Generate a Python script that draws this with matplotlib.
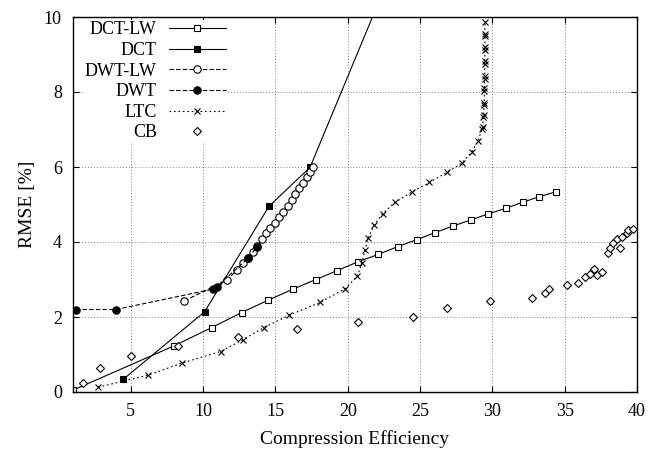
import numpy as np
import matplotlib
matplotlib.use('Agg')
import matplotlib.pyplot as plt

plt.rcParams['font.family'] = ['Liberation Serif', 'DejaVu Serif']

# data
dct_lw_x = [1.0, 7.98, 10.6, 12.67, 14.5, 16.19, 17.8, 19.28, 20.69, 22.12, 23.47,
            24.76, 26.03, 27.3, 28.52, 29.72, 30.94, 32.1, 33.25, 34.4]
dct_lw_y = [0.05, 1.23, 1.72, 2.12, 2.45, 2.74, 3.0, 3.24, 3.47, 3.67, 3.88,
            4.06, 4.25, 4.43, 4.59, 4.75, 4.9, 5.06, 5.21, 5.34]

dct_x = [4.48, 10.1, 14.55, 17.39, 23.0]
dct_y = [0.34, 2.14, 4.95, 5.99, 11.2]

dwt_lw_x = [8.7, 11.67, 12.32, 12.78, 13.1, 13.47, 13.75, 14.05, 14.35, 14.62, 14.97,
            15.27, 15.54, 15.89, 16.12, 16.35, 16.65, 16.88, 17.16, 17.39, 17.62]
dwt_lw_y = [2.43, 2.99, 3.25, 3.43, 3.57, 3.74, 3.9, 4.07, 4.23, 4.37, 4.5,
            4.66, 4.81, 4.96, 5.12, 5.27, 5.43, 5.58, 5.74, 5.87, 6.01]

dwt_x = [1.2, 3.97, 10.66, 10.94, 13.12, 13.74]
dwt_y = [2.2, 2.2, 2.74, 2.81, 3.57, 3.88]

ltc_x = [2.75, 6.21, 8.52, 11.21, 12.78, 14.2, 15.96, 18.08, 19.81, 20.66, 20.99,
         21.19, 21.42, 21.82, 22.42, 23.27, 24.42, 25.64, 26.88, 27.88, 28.57,
         29.03, 29.26, 29.33, 29.38, 29.4, 29.42, 29.43, 29.45, 29.45, 29.46,
         29.47, 29.47, 29.48, 29.48, 29.49, 29.49, 29.49, 29.49]
ltc_y = [0.13, 0.45, 0.77, 1.08, 1.4, 1.72, 2.05, 2.39, 2.75, 3.09, 3.45,
         3.79, 4.12, 4.45, 4.76, 5.06, 5.33, 5.59, 5.86, 6.1, 6.4,
         6.7, 7.01, 7.07, 7.33, 7.4, 7.65, 7.72, 8.03, 8.1, 8.36,
         8.43, 8.75, 8.82, 9.12, 9.19, 9.49, 9.56, 9.87]

cb_x = [1.71, 2.87, 4.99, 8.28, 12.43, 16.47, 20.69, 24.49, 26.84, 29.84, 32.72,
        33.64, 33.94, 35.19, 35.95, 36.41, 36.75, 37.05, 37.2, 37.6, 38.02,
        38.14, 38.36, 38.6, 38.83, 38.94, 39.29, 39.4, 39.75]
cb_y = [0.23, 0.63, 0.96, 1.24, 1.47, 1.67, 1.86, 2.01, 2.23, 2.43, 2.51,
        2.63, 2.75, 2.85, 2.92, 3.06, 3.15, 3.27, 3.12, 3.21, 3.72,
        3.83, 3.97, 4.08, 3.85, 4.14, 4.23, 4.32, 4.36]

xticks = [5, 10, 15, 20, 25, 30, 35, 40]
yticks = [0, 2, 4, 6, 8, 10]

fig = plt.figure(figsize=(6.66, 4.58), dpi=100)
ax = fig.add_axes([73 / 666, 1 - 392 / 458, 564 / 666, 375 / 458])

lw = 0.8
dashed = (0, (4, 2))
dotted = (0, (1.5, 2.5))

ax.plot(dct_lw_x, dct_lw_y, color='black', lw=lw, ls='-', marker='s', ms=5,
        mfc='white', mec='black', mew=0.8, label='DCT-LW')
ax.plot(dct_x, dct_y, color='black', lw=lw, ls='-', marker='s', ms=5,
        mfc='black', mec='black', mew=0.8, label='DCT')
ax.plot(dwt_lw_x, dwt_lw_y, color='black', lw=lw, ls=dashed, marker='o', ms=5.3,
        mfc='white', mec='black', mew=0.8, label='DWT-LW')
ax.plot(dwt_x, dwt_y, color='black', lw=lw, ls=dashed, marker='o', ms=5.3,
        mfc='black', mec='black', mew=0.8, label='DWT')
ax.plot(ltc_x, ltc_y, color='black', lw=lw, ls=dotted, marker='x', ms=5,
        mew=0.8, label='LTC')
ax.plot(cb_x, cb_y, color='black', ls='none', marker='D', ms=4.2,
        mfc='white', mec='black', mew=0.8, label='CB')

ax.set_xlim(1, 40)
ax.set_ylim(0, 10)
ax.set_xticks(xticks)
ax.set_yticks(yticks)
ax.tick_params(direction='in', top=True, right=True, length=4, width=0.8,
               labelsize=13, pad=8)
ax.grid(True, color='#808080', ls=(0, (1, 2)), lw=0.7)
ax.set_axisbelow(True)
for s in ax.spines.values():
    s.set_linewidth(1.0)

ax.set_xlabel('Compression Efficiency', fontsize=14, labelpad=7)
ax.set_ylabel('RMSE [%]', fontsize=14, labelpad=6)

leg = ax.legend(loc='upper left', bbox_to_anchor=(0.018, 0.993), markerfirst=False,
                frameon=True, facecolor='white', edgecolor='none', framealpha=1,
                fancybox=False, fontsize=13, handlelength=3.2, handletextpad=0.65,
                labelspacing=0.2, borderpad=0.1, borderaxespad=0)

fig.savefig('out.png', dpi=100)
